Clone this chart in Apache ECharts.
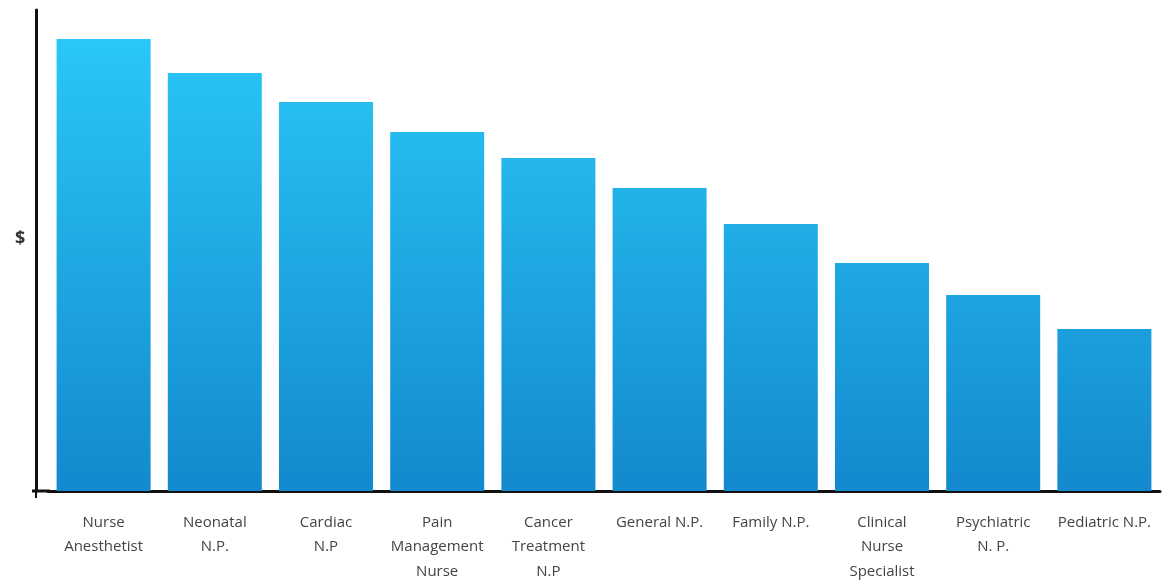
<!DOCTYPE html>
<html>
<head>
<meta charset="utf-8">
<script src="https://cdn.jsdelivr.net/npm/echarts@6/dist/echarts.min.js"></script>
<style>
html,body{margin:0;padding:0;background:#fff;}
#chart{width:1162px;height:580px;}
</style>
</head>
<body>
<div id="chart"></div>
<script>
const categories = [
  "Nurse\nAnesthetist",
  "Neonatal\nN.P.",
  "Cardiac\nN.P",
  "Pain\nManagement\nNurse",
  "Cancer\nTreatment\nN.P",
  "General N.P.",
  "Family N.P.",
  "Clinical\nNurse\nSpecialist",
  "Psychiatric\nN. P.",
  "Pediatric N.P."
];
const values = [452, 418, 389, 359, 333, 303, 267, 228, 196, 162];
const axisMax = 481;
const yAxisName = "$";

const chart = echarts.init(document.getElementById('chart'));
const gradient = new echarts.graphic.LinearGradient(0, 39, 0, 490, [
  {offset: 0, color: 'rgb(42,199,247)'},
  {offset: 1, color: 'rgb(19,137,206)'}
], true);

chart.setOption({
  animation: false,
  backgroundColor: '#ffffff',
  title: {
    text: yAxisName,
    left: 10,
    top: 225,
    textStyle: {color: '#333', fontSize: 18, fontWeight: 'bold', fontFamily: 'Open Sans'}
  },
  grid: {left: 48, right: 2, top: 10, bottom: 89, outerBoundsMode: 'none', containLabel: false},
  xAxis: {
    type: 'category',
    data: categories,
    axisLine: {show: true, lineStyle: {color: '#111', width: 3}},
    axisTick: {show: false},
    axisLabel: {
      interval: 0,
      margin: 19,
      color: '#444',
      fontFamily: 'Open Sans',
      fontSize: 15,
      lineHeight: 24.5,
      align: 'center',
      verticalAlign: 'top'
    }
  },
  yAxis: {
    type: 'value',
    min: 0,
    max: axisMax,
    offset: 12,
    axisLine: {show: true, lineStyle: {color: '#111', width: 3}},
    axisTick: {show: false},
    axisLabel: {show: false},
    splitLine: {show: false}
  },
  graphic: [{
    type: 'line',
    shape: {x1: 32, y1: 491, x2: 50, y2: 491},
    style: {stroke: '#111', lineWidth: 3},
    z: 10
  }, {
    type: 'line',
    shape: {x1: 36, y1: 490, x2: 36, y2: 498},
    style: {stroke: '#111', lineWidth: 2},
    z: 10
  }],
  series: [{
    type: 'bar',
    data: values,
    barWidth: 94,
    itemStyle: {color: gradient}
  }]
});
</script>
</body>
</html>
